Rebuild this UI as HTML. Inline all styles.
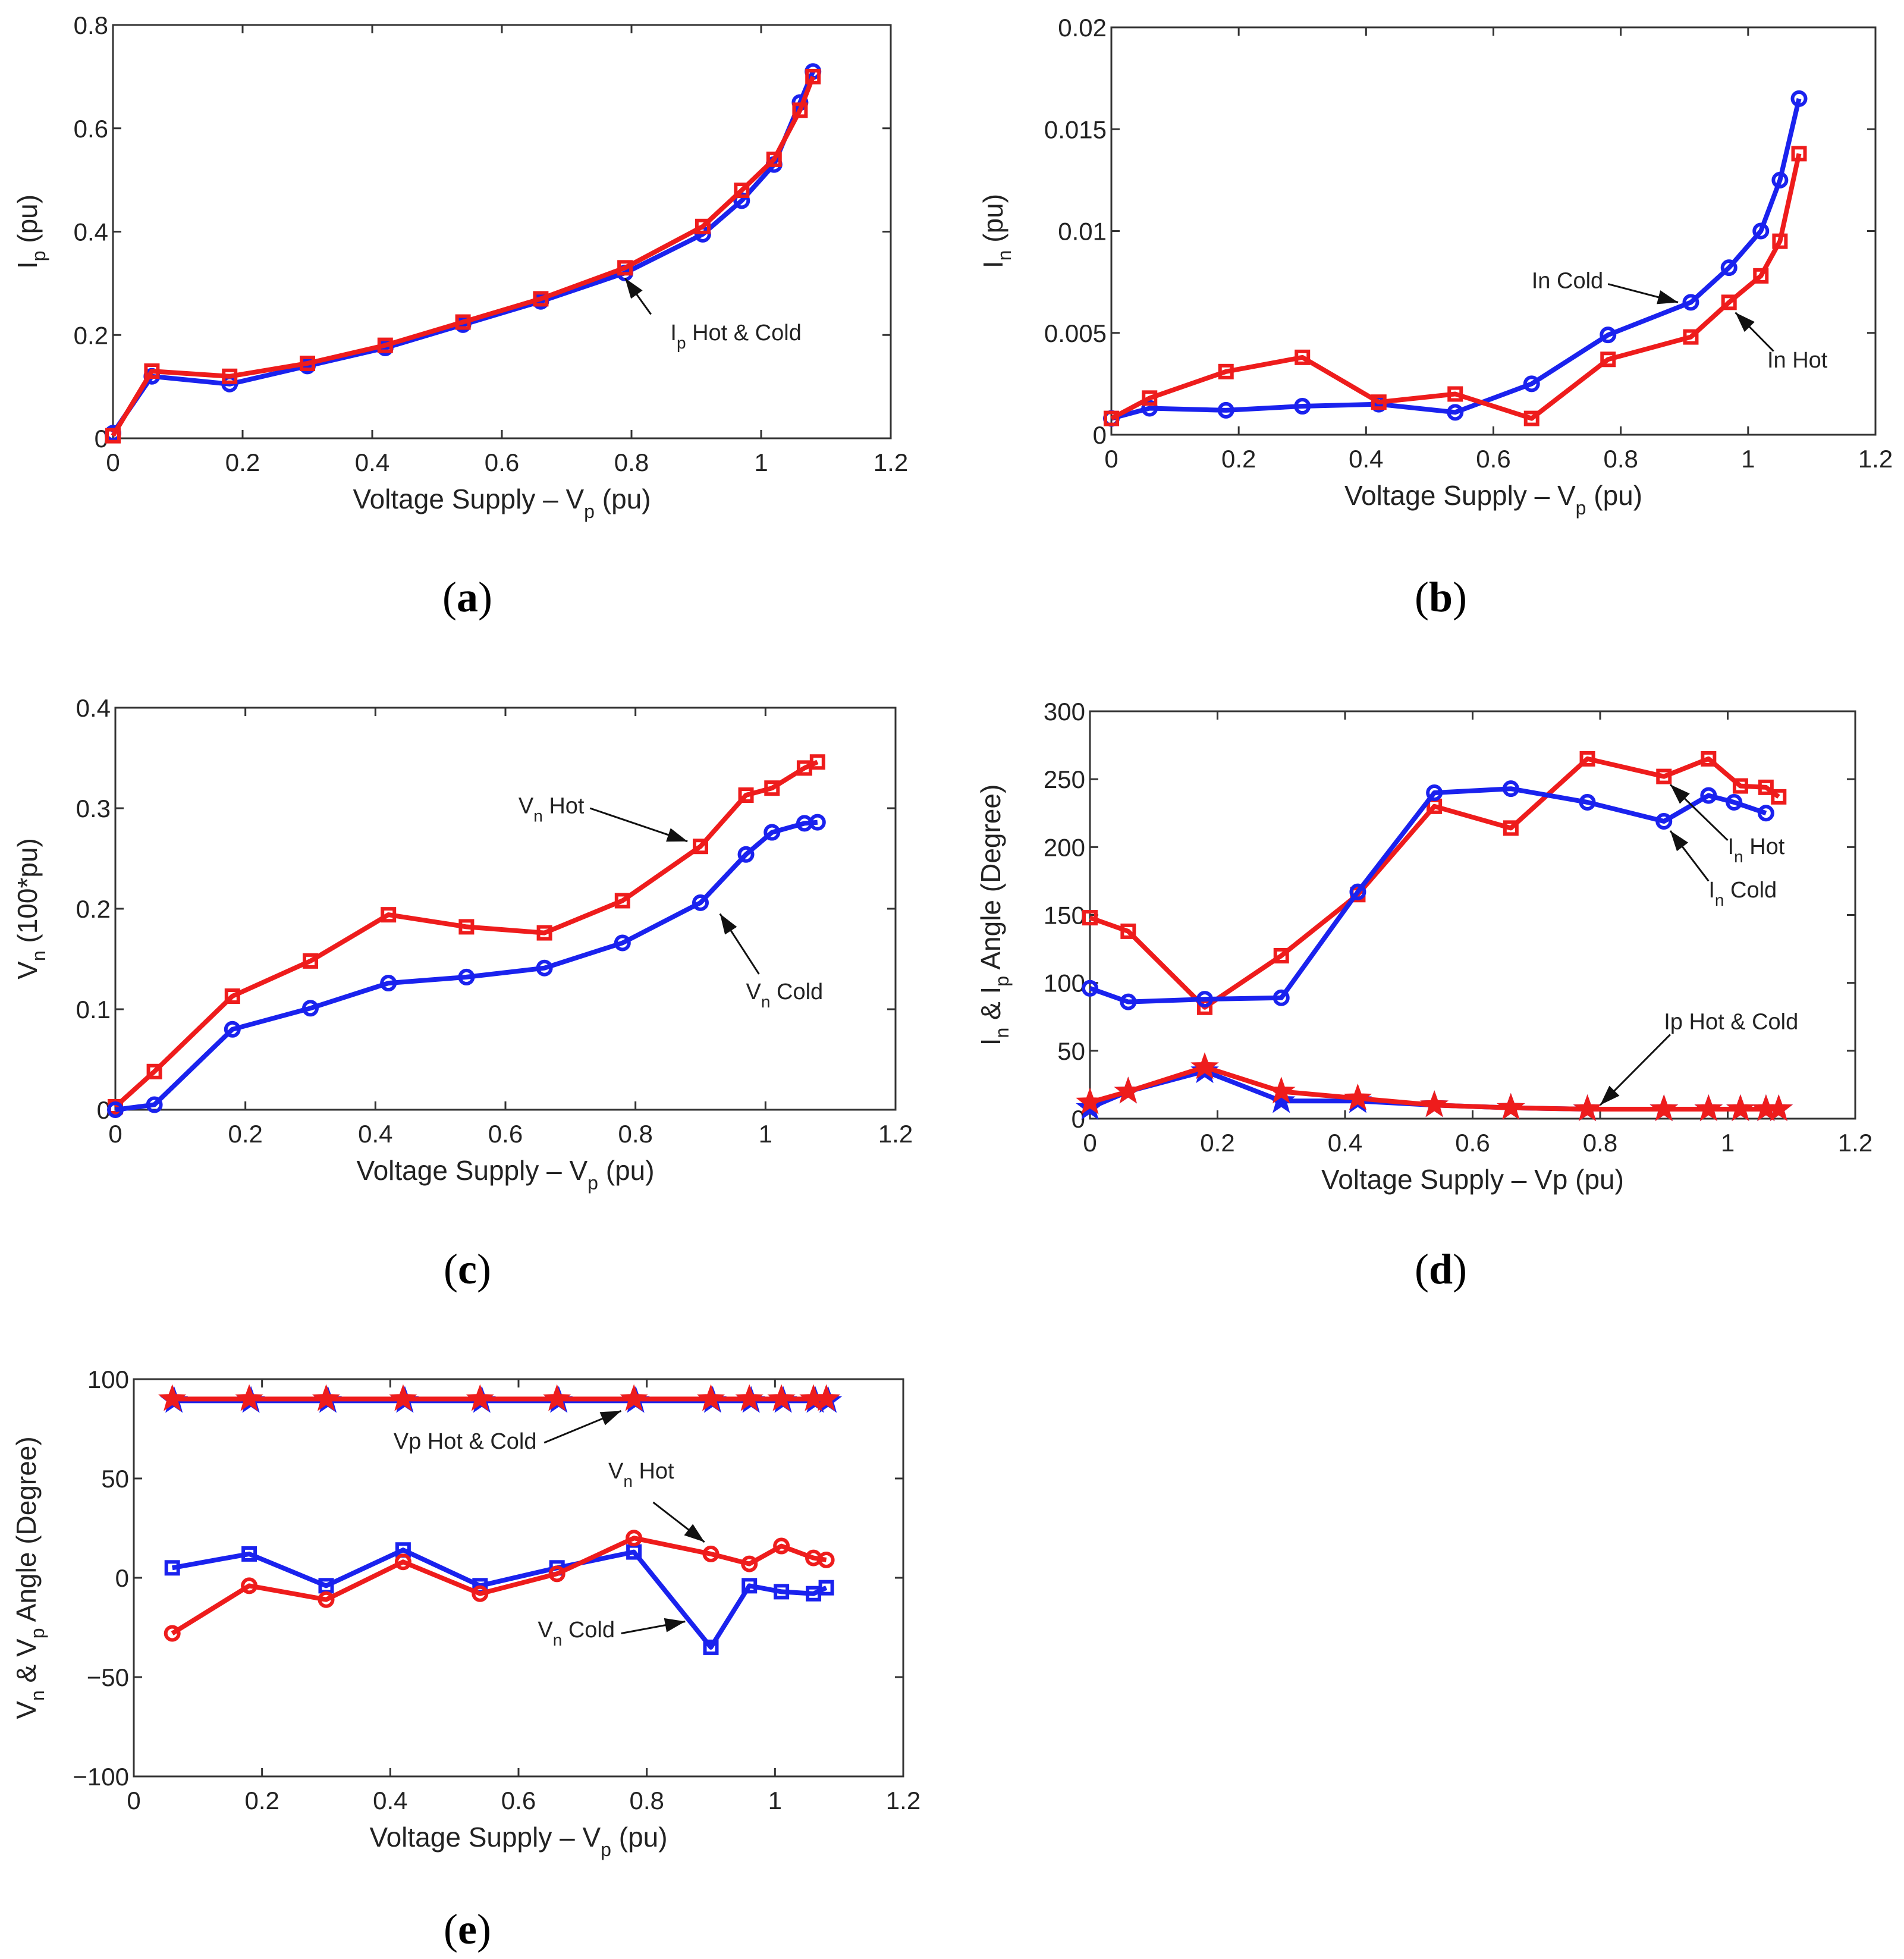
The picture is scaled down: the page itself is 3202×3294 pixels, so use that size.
<!DOCTYPE html>
<html><head><meta charset="utf-8"><style>
html,body{margin:0;padding:0;background:#fff}
svg{display:block}
text{font-family:"Liberation Sans",sans-serif;fill:#222}
.cap{font-family:"Liberation Serif",serif;font-size:72px;fill:#000}
</style></head><body>
<svg id="fig" width="3202" height="3294" viewBox="0 0 3202 3294" xmlns="http://www.w3.org/2000/svg"></svg>
<script>
const xTicks=[0,0.2,0.4,0.6,0.8,1,1.2];
const xTickLabels=["0","0.2","0.4","0.6","0.8","1","1.2"];
// (a)
const xA=[0,0.06,0.18,0.30,0.42,0.54,0.66,0.79,0.91,0.97,1.02,1.06,1.08];
const ipCold=[0.01,0.12,0.105,0.14,0.175,0.22,0.265,0.32,0.395,0.46,0.53,0.65,0.71];
const ipHot=[0.005,0.13,0.12,0.145,0.18,0.225,0.27,0.33,0.41,0.48,0.54,0.635,0.70];
const yTicksA=[0,0.2,0.4,0.6,0.8];
const yTickLabelsA=["0","0.2","0.4","0.6","0.8"];
// (b)
const xB=[0,0.06,0.18,0.30,0.42,0.54,0.66,0.78,0.91,0.97,1.02,1.05,1.08];
const inCold=[0.0008,0.0013,0.0012,0.0014,0.0015,0.0011,0.0025,0.0049,0.0065,0.0082,0.0100,0.0125,0.0165];
const inHot=[0.0008,0.0018,0.0031,0.0038,0.0016,0.0020,0.0008,0.0037,0.0048,0.0065,0.0078,0.0095,0.0138];
const yTicksB=[0,0.005,0.01,0.015,0.02];
const yTickLabelsB=["0","0.005","0.01","0.015","0.02"];
// (c)
const xC=[0,0.06,0.18,0.30,0.42,0.54,0.66,0.78,0.90,0.97,1.01,1.06,1.08];
const vnHot=[0.003,0.038,0.113,0.148,0.194,0.182,0.176,0.208,0.262,0.313,0.320,0.340,0.346];
const vnCold=[0,0.005,0.080,0.101,0.126,0.132,0.141,0.166,0.206,0.254,0.276,0.285,0.286];
const yTicksC=[0,0.1,0.2,0.3,0.4];
const yTickLabelsC=["0","0.1","0.2","0.3","0.4"];
// (d)
const xDHot=[0,0.06,0.18,0.30,0.42,0.54,0.66,0.78,0.90,0.97,1.02,1.06,1.08];
const inAngHot=[148,138,82,120,165,230,214,265,252,265,245,244,237];
const xDCold=[0,0.06,0.18,0.30,0.42,0.54,0.66,0.78,0.90,0.97,1.01,1.06];
const inAngCold=[96,86,88,89,167,240,243,233,219,238,233,225];
const xDIp=[0,0.06,0.18,0.30,0.42,0.54,0.66,0.78,0.90,0.97,1.02,1.06,1.08];
const ipAngCold=[8,20,35,13,13,10,8,7,7,7,7,7,7];
const ipAngHot=[12,20,38,20,15,10,8,7,7,7,7,7,7];
const yTicksD=[0,50,100,150,200,250,300];
const yTickLabelsD=["0","50","100","150","200","250","300"];
// (e)
const xE=[0.06,0.18,0.30,0.42,0.54,0.66,0.78,0.90,0.96,1.01,1.06,1.08];
const vpAng=[90,90,90,90,90,90,90,90,90,90,90,90];
const vnAngCold=[5,12,-4,14,-4,5,13,-35,-4,-7,-8,-5];
const vnAngHot=[-28,-4,-11,8,-8,2,20,12,7,16,10,9];
const yTicksE=[-100,-50,0,50,100];
const yTickLabelsE=["\u2212100","\u221250","0","50","100"];

const NS="http://www.w3.org/2000/svg";
const svg=document.getElementById('fig');
function mk(tag,attrs,parent){const e=document.createElementNS(NS,tag);for(const k in attrs)e.setAttribute(k,attrs[k]);(parent||svg).appendChild(e);return e;}
const BLUE="#1a22ee",RED="#ee1c1c";

function axes(id,L,R,T,B,ymin,ymax,yt,ytl){
  const g=mk('g',{});
  
  
  const sx=v=>L+(v-0)/1.2*(R-L);
  const sy=v=>B-(v-ymin)/(ymax-ymin)*(B-T);
  const frame=mk('rect',{x:L,y:T,width:R-L,height:B-T,fill:'none',stroke:'#333','stroke-width':3},g);
  
  
  xTicks.forEach((v,i)=>{
    const x=sx(v);
    mk('line',{x1:x,y1:B,x2:x,y2:B-14,stroke:'#333','stroke-width':3},g);
    mk('line',{x1:x,y1:T,x2:x,y2:T+14,stroke:'#333','stroke-width':3},g);
    const t=mk('text',{x:x,y:B+55,'font-size':42,'text-anchor':'middle'},g);
    t.textContent=xTickLabels[i];
    
    
  });
  yt.forEach((v,i)=>{
    const y=sy(v);
    mk('line',{x1:L,y1:y,x2:L+14,y2:y,stroke:'#333','stroke-width':3},g);
    mk('line',{x1:R,y1:y,x2:R-14,y2:y,stroke:'#333','stroke-width':3},g);
    const t=mk('text',{x:L-8,y:y+15,'font-size':42,'text-anchor':'end'},g);
    t.textContent=ytl[i];
    
    
  });
  return {g,sx,sy,L,R,T,B};
}
function marker(g,type,x,y,color){
  if(type==='o')return mk('circle',{cx:x,cy:y,r:11,fill:'none',stroke:color,'stroke-width':6},g);
  if(type==='s')return mk('rect',{x:x-10,y:y-10,width:20,height:20,fill:'none',stroke:color,'stroke-width':6},g);
  if(type==='*'){let p=[];for(let k=0;k<10;k++){const r=k%2?9:22;const a=-Math.PI/2+k*Math.PI/5;p.push((x+r*Math.cos(a)).toFixed(1)+','+(y+r*Math.sin(a)).toFixed(1));}
    return mk('polygon',{points:p.join(' '),fill:color,stroke:color,'stroke-width':2},g);}
}
function series(ax,xs,ys,color,type,name,off){
  off=off||0;
  const g=mk('g',{},ax.g);
  
  
  const pts=xs.map((v,i)=>(ax.sx(v)+off).toFixed(1)+','+(ax.sy(ys[i])+off).toFixed(1)).join(' ');
  mk('polyline',{points:pts,fill:'none',stroke:color,'stroke-width':8,'stroke-linejoin':'round'},g);
  xs.forEach((v,i)=>{const m=marker(g,type,ax.sx(v)+off,ax.sy(ys[i])+off,color);
    
    });
}
function arrow(ax,x1,y1,x2,y2){
  const a=ax.sx(x1),b=ax.sy(y1),c=ax.sx(x2),d=ax.sy(y2);
  const g=mk('g',{},ax.g);
  
  
  mk('line',{x1:a,y1:b,x2:c,y2:d,stroke:'#111','stroke-width':3},g);
  const ang=Math.atan2(d-b,c-a),L=34,W=12;
  const bx=c-L*Math.cos(ang),by=d-L*Math.sin(ang);
  mk('polygon',{points:`${c},${d} ${bx+W*Math.sin(ang)},${by-W*Math.cos(ang)} ${bx-W*Math.sin(ang)},${by+W*Math.cos(ang)}`,fill:'#111'},g);
}
function label(ax,x,y,main,sub,rest,anchor){
  const t=mk('text',{x:ax.sx(x),y:ax.sy(y),'font-size':38,'text-anchor':anchor||'start'},ax.g);
  
  
  const s1=mk('tspan',{},t);s1.textContent=main;
  if(sub){const s2=mk('tspan',{dy:14,'font-size':28},t);s2.textContent=sub;
    const s3=mk('tspan',{dy:-14},t);s3.textContent=rest;}
}
function xlabel(ax,main,sub,rest){
  const t=mk('text',{x:(ax.L+ax.R)/2,y:ax.B+118,'font-size':46,'text-anchor':'middle'},ax.g);
  
  
  const s1=mk('tspan',{},t);s1.textContent=main;
  if(sub){const s2=mk('tspan',{dy:16,'font-size':32},t);s2.textContent=sub;const s3=mk('tspan',{dy:-16},t);s3.textContent=rest;}
}
function ylabel(ax,x,parts){
  const cy=(ax.T+ax.B)/2;
  const t=mk('text',{x:x,y:cy,'font-size':46,'text-anchor':'middle',transform:`rotate(-90 ${x} ${cy})`},ax.g);
  
  
  parts.forEach(p=>{const s=mk('tspan',p[1]?{dy:p[1],'font-size':p[2]||46}:{},t);s.textContent=p[0];});
}
function caption(x,y,letter){
  const t=mk('text',{x:x,y:y,'text-anchor':'middle',class:'cap'});
  
  
  const a=mk('tspan',{},t);a.textContent='(';
  const b=mk('tspan',{'font-weight':'bold'},t);b.textContent=letter;
  const c=mk('tspan',{},t);c.textContent=')';
}

// (a)
let A=axes('a',190,1498,42,737,0,0.8,yTicksA,yTickLabelsA);
series(A,xA,ipCold,BLUE,'o','ip-cold-line');
series(A,xA,ipHot,RED,'s','ip-hot-line');
arrow(A,0.83,0.24,0.79,0.31);
label(A,0.86,0.19,'I','p',' Hot & Cold');
xlabel(A,'Voltage Supply \u2013 V','p',' (pu)');
ylabel(A,62,[['I'],['p',14,32],[' (pu)',-14,46]]);
caption(786,1028,'a');

// (b)
let Bp=axes('b',1869,3154,46,731,0,0.02,yTicksB,yTickLabelsB);
series(Bp,xB,inCold,BLUE,'o','in-cold-line');
series(Bp,xB,inHot,RED,'s','in-hot-line');
label(Bp,0.66,0.0072,'In Cold');
arrow(Bp,0.78,0.0074,0.89,0.0065);
label(Bp,1.03,0.0033,'In Hot');
arrow(Bp,1.04,0.0041,0.98,0.006);
xlabel(Bp,'Voltage Supply \u2013 V','p',' (pu)');
ylabel(Bp,1686,[['I'],['n',14,32],[' (pu)',-14,46]]);
caption(2423,1028,'b');

// (c)
let C=axes('c',194,1506,1190,1866,0,0.4,yTicksC,yTickLabelsC);
series(C,xC,vnHot,RED,'s','vn-hot-line');
series(C,xC,vnCold,BLUE,'o','vn-cold-line');
label(C,0.62,0.295,'V','n',' Hot');
arrow(C,0.73,0.3,0.88,0.267);
label(C,0.97,0.11,'V','n',' Cold');
arrow(C,0.99,0.135,0.93,0.195);
xlabel(C,'Voltage Supply \u2013 V','p',' (pu)');
ylabel(C,62,[['V'],['n',14,32],[' (100*pu)',-14,46]]);
caption(786,2158,'c');

// (d)
let D=axes('d',1833,3120,1196,1881,0,300,yTicksD,yTickLabelsD);
series(D,xDHot,inAngHot,RED,'s','in-angle-hot-line');
series(D,xDCold,inAngCold,BLUE,'o','in-angle-cold-line');
series(D,xDIp,ipAngCold,BLUE,'*','ip-angle-cold-line');
series(D,xDIp,ipAngHot,RED,'*','ip-angle-hot-line');
label(D,1.0,195,'I','n',' Hot');
arrow(D,1.0,205,0.91,246);
label(D,0.97,163,'I','n',' Cold');
arrow(D,0.97,175,0.91,212);
label(D,0.90,66,'Ip Hot & Cold');
arrow(D,0.91,62,0.80,10);
xlabel(D,'Voltage Supply \u2013 Vp (pu)');
ylabel(D,1682,[['I'],['n',14,32],[' & I',-14,46],['p',14,32],[' Angle (Degree)',-14,46]]);
caption(2423,2158,'d');

// (e)
let E=axes('e',225,1519,2319,2987,-100,100,yTicksE,yTickLabelsE);
series(E,xE,vpAng,BLUE,'*','vp-angle-cold-line',3);
series(E,xE,vpAng,RED,'*','vp-angle-hot-line');
series(E,xE,vnAngCold,BLUE,'s','vn-angle-cold-line');
series(E,xE,vnAngHot,RED,'o','vn-angle-hot-line');
label(E,0.405,65,'Vp Hot & Cold');
arrow(E,0.64,68,0.76,84);
label(E,0.74,50,'V','n',' Hot');
arrow(E,0.81,38,0.89,18);
label(E,0.63,-30,'V','n',' Cold');
arrow(E,0.76,-28,0.86,-22);
xlabel(E,'Voltage Supply \u2013 V','p',' (pu)');
ylabel(E,60,[['V'],['n',14,32],[' & V',-14,46],['p',14,32],[' Angle (Degree)',-14,46]]);
caption(786,3268,'e');
</script>
</body></html>
